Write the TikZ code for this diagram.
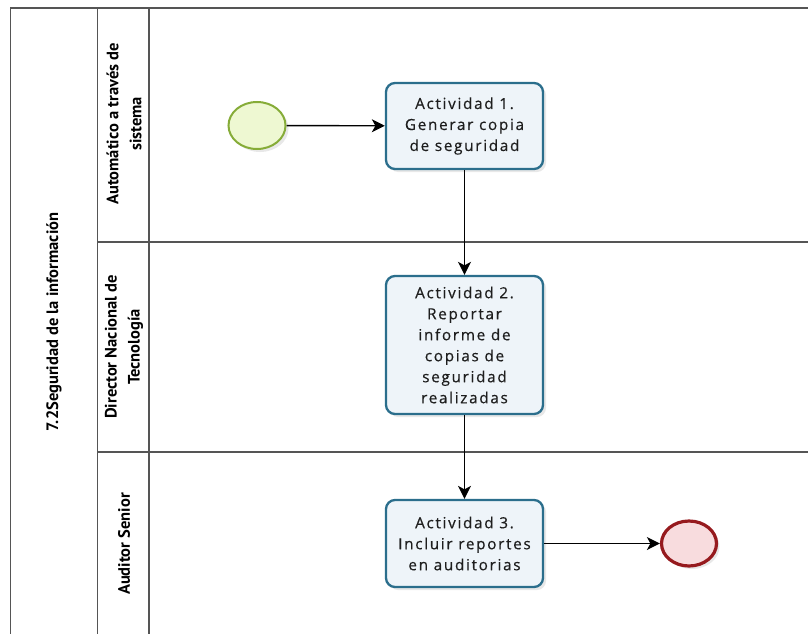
\documentclass[tikz,border=0pt]{standalone}
\usepackage{fontspec}
\setmainfont{Open Sans}
\newfontfamily\taskfamily[LetterSpace=11,FakeBold=0.4]{Open Sans}
\newfontfamily\lanefamily{PT Sans}
\usetikzlibrary{arrows.meta,shadows,shapes.geometric}
\definecolor{laneline}{HTML}{555555}
\definecolor{taskborder}{HTML}{2B6E8C}
\definecolor{taskfill}{HTML}{EEF4F9}
\definecolor{startborder}{HTML}{86AC38}
\definecolor{startfill}{HTML}{EEF8D2}
\definecolor{endborder}{HTML}{961A1E}
\definecolor{endfill}{HTML}{F8DCDE}
\definecolor{textgray}{HTML}{1E1E1E}
\begin{document}
\begin{tikzpicture}[x=1pt,y=-1pt,
  laneborder/.style={draw=laneline,line width=1.4pt},
  softshadow/.style={drop shadow={shadow xshift=3pt,shadow yshift=-3pt,opacity=0.18,fill=gray}},
  task/.style={draw=taskborder,fill=taskfill,line width=2.3pt,rounded corners=9pt,
    minimum width=157pt,inner sep=0pt,align=center,text=textgray,
    font=\taskfamily\fontsize{15.3}{21}\selectfont,softshadow},
  startev/.style={ellipse,draw=startborder,fill=startfill,line width=2pt,
    minimum width=57pt,minimum height=47pt,inner sep=0pt,softshadow},
  endev/.style={ellipse,draw=endborder,fill=endfill,line width=3.2pt,
    minimum width=55pt,minimum height=45pt,inner sep=0pt,softshadow},
  lanelabel/.style={rotate=90,align=center,text=black,
    font=\lanefamily\bfseries\fontsize{16.5}{23}\selectfont},
  poollabel/.style={rotate=90,align=center,text=black,
    font=\lanefamily\bfseries\fontsize{16.5}{23}\selectfont},
  flow/.style={draw=black,line width=1.4pt,-{Stealth[length=13pt,width=13pt,inset=3.5pt]}}
]
\useasboundingbox (0,0) rectangle (808,634);
% pool and lanes
\draw[laneborder] (808,8) -- (10.5,8) -- (10.5,640);
\draw[laneborder] (97.5,8) -- (97.5,640);
\draw[laneborder] (149,8) -- (149,640);
\draw[laneborder] (97.5,242) -- (808,242);
\draw[laneborder] (97.5,452) -- (808,452);
% labels
\node[poollabel] (pool) at (54,322) {7.2Seguridad de la información};
\node[lanelabel] (lane1) at (124,124) {Automático a través de\\sistema};
\node[lanelabel] (lane2) at (124,347) {Director Nacional de\\Tecnología};
\node[lanelabel] (lane3) at (124,544) {Auditor Senior};
% flow elements
\node[startev] (start) at (257,125.5) {};
\node[task,minimum height=86pt] (t1) at (464.5,126) {Actividad 1.\\Generar copia\\de seguridad};
\node[task,minimum height=138pt] (t2) at (464.5,345) {Actividad 2.\\Reportar\\informe de\\copias de\\seguridad\\realizadas};
\node[task,minimum height=87pt] (t3) at (464.5,543.5) {Actividad 3.\\Incluir reportes\\en auditorias};
\node[endev] (end) at (689,543.5) {};
% connectors
\draw[flow] (start) -- (t1);
\draw[flow] (t1) -- (t2);
\draw[flow] (t2) -- (t3);
\draw[flow] (t3) -- (end);
\end{tikzpicture}
\end{document}
